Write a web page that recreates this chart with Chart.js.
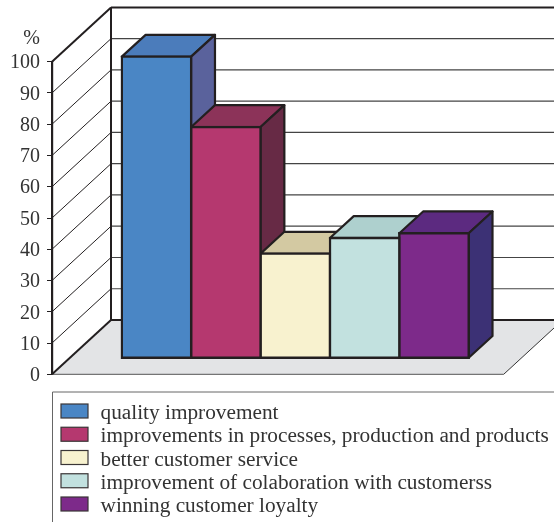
<!DOCTYPE html>
<html>
<head>
<meta charset="utf-8">
<script src="https://cdn.jsdelivr.net/npm/chart.js@4"></script>
<style>
  html, body { margin: 0; padding: 0; background: #fff; overflow: hidden; }
  canvas { display: block; }
</style>
</head>
<body>
<canvas id="chart-3d" width="554" height="522"></canvas>
<script>
const categories = ['%'];
const seriesNames = [
  'quality improvement',
  'improvements in processes, production and products',
  'better customer service',
  'improvement of colaboration with customerss',
  'winning customer loyalty'
];
const seriesValues = [96.5, 74, 33.5, 38.5, 40];
const yTicks = [0, 10, 20, 30, 40, 50, 60, 70, 80, 90, 100];

const frontColors = ['#4a86c5', '#b5386f', '#f8f2cf', '#c2e1df', '#7d2a8a'];
const topColors = ['#4b7cbb', '#8c3359', '#d3c9a2', '#aed0ce', '#5c2a80'];
const sideColors = ['#5a629c', '#672a45', '#b9ae8a', '#9dbdbb', '#3c3175'];

const INK = '#231f20';
const TEXT = '#333333';
const SERIF = '"Liberation Serif", "Times New Roman", serif';
// depth of the floor, and where the bars stand on it
const WALL = { x: 59, y: 54.3 };
const SHIFT = { x: 17.4, y: 16 };
const DEPTH = { x: 23.8, y: 21.8 };

function poly(ctx, pts, fill, stroke, lw) {
  ctx.beginPath();
  pts.forEach((p, i) => i ? ctx.lineTo(p[0], p[1]) : ctx.moveTo(p[0], p[1]));
  ctx.closePath();
  if (fill) { ctx.fillStyle = fill; ctx.fill(); }
  if (stroke) { ctx.strokeStyle = stroke; ctx.lineWidth = lw; ctx.stroke(); }
}

function line(ctx, x1, y1, x2, y2, color, lw) {
  ctx.beginPath();
  ctx.moveTo(x1, y1);
  ctx.lineTo(x2, y2);
  ctx.strokeStyle = color;
  ctx.lineWidth = lw;
  ctx.stroke();
}

const box3d = {
  id: 'box3d',
  beforeDatasetsDraw(chart) {
    const { ctx, chartArea: a, scales: { y } } = chart;
    const x0 = a.left, x1 = a.right, y0 = y.getPixelForValue(0);
    ctx.save();
    // floor
    poly(ctx, [[x0, y0], [x0 + WALL.x, y0 - WALL.y], [x1 + WALL.x, y0 - WALL.y], [x1, y0]], '#e3e4e6');
    line(ctx, x0, y0, x1, y0, '#555', 1);
    line(ctx, x1, y0, x1 + WALL.x, y0 - WALL.y, '#333', 1);
    // gridlines on both walls
    yTicks.forEach(v => {
      const py = y.getPixelForValue(v);
      const heavy = v === 0 || v === 100;
      line(ctx, x0, py, x0 + WALL.x, py - WALL.y, INK, heavy ? 2 : 1);
      line(ctx, x0 + WALL.x, py - WALL.y, x1 + WALL.x, py - WALL.y, heavy ? INK : '#444', heavy ? 2 : 1.2);
    });
    line(ctx, x0 + WALL.x, y.getPixelForValue(100) - WALL.y, x0 + WALL.x, y0 - WALL.y, INK, 2);
    // percent sign over the axis
    ctx.fillStyle = TEXT;
    ctx.font = '20px ' + SERIF;
    ctx.textAlign = 'right';
    ctx.textBaseline = 'alphabetic';
    ctx.fillText('%', 40, 44);

    // top and side faces, left to right so later bars sit over earlier ones
    ctx.translate(SHIFT.x, -SHIFT.y);
    ctx.lineJoin = 'round';
    chart.data.datasets.forEach((ds, i) => {
      chart.getDatasetMeta(i).data.forEach(el => {
        const L = el.x - el.width / 2, R = el.x + el.width / 2, T = el.y, B = el.base;
        poly(ctx, [[L, T], [R, T], [R + DEPTH.x, T - DEPTH.y], [L + DEPTH.x, T - DEPTH.y]], topColors[i], INK, 2.2);
        poly(ctx, [[R, T], [R + DEPTH.x, T - DEPTH.y], [R + DEPTH.x, B - DEPTH.y], [R, B]], sideColors[i], INK, 2.2);
      });
    });
    ctx.restore();
  },
  beforeDatasetDraw(chart) {
    chart.ctx.save();
    chart.ctx.translate(SHIFT.x, -SHIFT.y);
  },
  afterDatasetDraw(chart) {
    chart.ctx.restore();
  },
  afterDatasetsDraw(chart) {
    const { ctx } = chart;
    ctx.save();
    // legend box is open on the right and bottom
    line(ctx, 52.5, 392, 554, 392, '#666', 1);
    line(ctx, 52.5, 392, 52.5, 522, '#666', 1);
    ctx.font = '21.3px ' + SERIF;
    ctx.textAlign = 'left';
    ctx.textBaseline = 'alphabetic';
    chart.data.datasets.forEach((ds, i) => {
      const top = 404 + i * 23.25;
      ctx.fillStyle = frontColors[i];
      ctx.fillRect(61, top, 27, 14);
      ctx.strokeStyle = '#3a3536';
      ctx.lineWidth = 1.2;
      ctx.strokeRect(61, top, 27, 14);
      ctx.fillStyle = TEXT;
      ctx.fillText(ds.label, 100.5, top + 15);
    });
    ctx.restore();
  }
};

new Chart(document.getElementById('chart-3d'), {
  type: 'bar',
  data: {
    labels: categories,
    datasets: seriesNames.map((name, i) => ({
      label: name,
      data: [seriesValues[i]],
      backgroundColor: frontColors[i],
      borderColor: INK,
      borderWidth: 2.4,
      borderSkipped: false,
      inflateAmount: 1.2,
      clip: false
    }))
  },
  options: {
    responsive: false,
    animation: false,
    categoryPercentage: 0.768,
    barPercentage: 1,
    layout: { padding: { left: 0, top: 61.7, right: 50.3, bottom: 147.7 } },
    scales: {
      x: { display: false },
      y: {
        min: 0,
        max: 100,
        afterFit(scale) { scale.width = 52; },
        afterBuildTicks(scale) { scale.ticks = yTicks.map(v => ({ value: v })); },
        border: { display: true, color: INK, width: 2.2 },
        grid: { drawOnChartArea: false, drawTicks: true, tickLength: 5, color: INK },
        ticks: { color: TEXT, padding: 7, labelOffset: 1.5, font: { family: SERIF, size: 20 } }
      }
    },
    plugins: {
      legend: { display: false },
      tooltip: { enabled: false }
    }
  },
  plugins: [box3d]
});
</script>
</body>
</html>
